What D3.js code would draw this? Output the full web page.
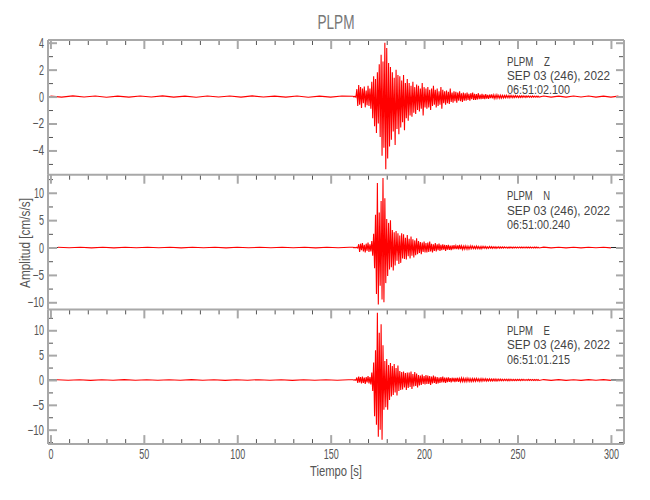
<!DOCTYPE html>
<html><head><meta charset="utf-8">
<script src="https://cdn.jsdelivr.net/npm/d3@7"></script>
<style>
body{margin:0;background:#fff}
text{font-family:"Liberation Sans",Arial,sans-serif}
</style>
</head><body><svg id="c" width="650" height="500"></svg>
<script>
// ---------- data ----------
const chartTitle = "PLPM";
const station = "PLPM";
const components = ["Z", "N", "E"];
const dateLabel = "SEP 03 (246), 2022";
const startTimes = ["06:51:02.100", "06:51:00.240", "06:51:01.215"];
const xLabel = "Tiempo [s]";
const yLabel = "Amplitud [cm/s/s]";

const xDomain = [-1.3, 307];
const xTicks = [0, 50, 100, 150, 200, 250, 300];
const xTickLabels = ["0", "50", "100", "150", "200", "250", "300"];
const xMinorStep = 10;

const yDomains = [[-5.8, 4.2], [-11.3, 13.3], [-12.9, 14.2]];
const yTicksZ = [-4, -2, 0, 2, 4];
const yTickLabelsZ = ["\u22124", "\u22122", "0", "2", "4"];
const yTicksN = [-10, -5, 0, 5, 10];
const yTickLabelsN = ["\u221210", "\u22125", "0", "5", "10"];
const yTicksE = [-10, -5, 0, 5, 10];
const yTickLabelsE = ["\u221210", "\u22125", "0", "5", "10"];
const yMinorSteps = [1, 2.5, 2.5];

// quiet pre-event samples (start time, step 6 s)
const preStart = [0, 4, 3.5];
const preStep = 6;
const preZ = [0.03,-0.04,0.05,-0.03,0.04,-0.05,0.03,-0.04,0.04,-0.03,0.05,-0.04,0.03,-0.05,0.04,-0.03,0.04,-0.04,0.05,-0.03,0.03,-0.04,0.04,-0.05,0.03,-0.04,0.04];
const preN = [0.06,-0.05,0.05,-0.06,0.04,-0.06,0.05,-0.05,0.06,-0.04,0.05,-0.06,0.05,-0.05,0.04,-0.06,0.06,-0.05,0.05,-0.04,0.06,-0.05,0.05,-0.06,0.04,-0.05,0.05];
const preE = [0.06,-0.06,0.05,-0.07,0.06,-0.05,0.07,-0.06,0.05,-0.06,0.06,-0.05,0.07,-0.06,0.05,-0.07,0.06,-0.05,0.06,-0.06,0.05,-0.07,0.06,-0.05,0.06,-0.06,0.05];

// event samples (start 162 s, step 0.5 s)
const activeStart = 162;
const activeStep = 0.5;
const activeZ = [
 0.02,-0.03,0.03,-0.05,0.55,-0.7,0.85,-0.6,0.7,-0.85,
 0.6,-0.5,0.75,-0.8,0.45,-0.65,0.8,-0.7,0.6,-0.9,
 1.1,-1.6,1.5,-2.2,1.3,-2.7,1.8,-2.0,2.4,-3.0,
 3.1,-4.4,2.6,-3.8,4.0,-5.4,3.6,-4.6,2.5,-3.7,
 2.2,-3.2,1.8,-2.6,1.4,-3.6,2.0,-2.4,1.6,-2.8,
 1.5,-2.3,1.2,-1.9,1.6,-2.5,1.0,-1.6,1.3,-1.8,
 1.0,-1.4,0.8,-1.5,1.1,-1.2,0.7,-1.3,0.9,-1.0,
 0.8,-1.1,0.6,-0.9,1.0,-1.4,0.7,-0.8,0.6,-0.9,
 0.7,-0.8,0.5,-1.0,0.6,-0.7,0.8,-0.6,0.5,-0.8,
 0.6,-0.7,0.4,-0.6,0.7,-0.9,0.5,-0.5,0.4,-0.6,
 0.45,-0.5,0.35,-0.55,0.6,-0.4,0.3,-0.45,0.4,-0.35,
 0.35,-0.45,0.3,-0.3,0.4,-0.35,0.25,-0.4,0.3,-0.3,
 0.25,-0.3,0.3,-0.25,0.2,-0.3,0.25,-0.2,0.3,-0.25,
 0.2,-0.25,0.18,-0.22,0.25,-0.2,0.15,-0.2,0.2,-0.18,
 0.15,-0.2,0.18,-0.15,0.12,-0.18,0.15,-0.12,0.16,-0.14,
 0.12,-0.14,0.1,-0.12,0.13,-0.1,0.09,-0.12,0.1,-0.11,
 0.09,-0.1,0.08,-0.09,0.1,-0.08,0.07,-0.09,0.08,-0.07,
 0.07,-0.08,0.06,-0.07,0.08,-0.06,0.06,-0.07,0.05,-0.06,
 0.05,-0.06,0.06,-0.05,0.04,-0.06,0.05,-0.04,0.05,-0.05,
 0.04,-0.05,0.05,-0.04,0.04,-0.05,0.03,-0.04,0.04,-0.04];
const activeN = [
 0.05,-0.05,0.04,-0.06,0.05,-0.1,0.6,-0.8,0.7,-0.5,
 0.8,-0.7,0.5,-0.9,0.7,-0.6,0.9,-0.8,0.6,-0.7,
 1.2,-1.5,2.5,-3.8,6.0,-8.5,11.8,-10.4,6.4,-7.0,
 8.5,-9.5,12.7,-10.0,9.0,-6.5,5.2,-5.2,4.5,-4.0,
 5.0,-3.6,3.2,-4.2,2.8,-3.3,3.0,-2.4,2.6,-3.0,
 2.2,-2.8,2.6,-2.0,2.4,-2.1,1.8,-2.2,2.3,-1.6,
 1.6,-2.0,2.0,-1.5,1.5,-1.8,1.3,-1.4,1.7,-1.2,
 1.2,-1.0,1.0,-1.2,0.9,-0.8,1.1,-0.9,0.8,-0.9,
 0.9,-0.8,1.1,-0.7,0.7,-0.9,0.6,-0.6,0.8,-0.7,
 0.6,-0.5,0.7,-0.6,0.5,-0.5,0.6,-0.4,0.5,-0.6,
 0.45,-0.4,0.5,-0.45,0.35,-0.5,0.4,-0.35,0.45,-0.3,
 0.35,-0.3,0.4,-0.35,0.5,-0.3,0.3,-0.35,0.25,-0.3,
 0.3,-0.25,0.25,-0.3,0.2,-0.25,0.3,-0.2,0.25,-0.2,
 0.2,-0.22,0.25,-0.18,0.2,-0.2,0.16,-0.22,0.2,-0.15,
 0.18,-0.15,0.2,-0.17,0.14,-0.16,0.18,-0.13,0.15,-0.15,
 0.14,-0.12,0.13,-0.15,0.12,-0.11,0.14,-0.12,0.1,-0.12,
 0.11,-0.1,0.12,-0.09,0.1,-0.11,0.09,-0.1,0.11,-0.09,
 0.09,-0.1,0.1,-0.08,0.09,-0.09,0.08,-0.09,0.1,-0.08,
 0.09,-0.08,0.08,-0.09,0.1,-0.08,0.08,-0.07,0.09,-0.08,
 0.08,-0.08,0.07,-0.08,0.09,-0.07,0.08,-0.08,0.07,-0.08];
const activeE = [
 0.05,-0.05,0.06,-0.08,0.5,-0.6,0.7,-0.5,0.6,-0.7,
 0.7,-0.6,0.5,-0.8,0.6,-0.5,0.8,-0.7,0.6,-0.9,
 1.5,-2.2,3.5,-7.3,6.0,-9.0,13.5,-11.4,9.5,-10.0,
 11.2,-12.0,7.0,-6.0,3.8,-5.5,4.2,-6.0,3.0,-4.0,
 3.4,-3.3,2.8,-3.0,3.2,-2.5,2.4,-3.1,2.9,-2.2,
 1.8,-2.0,1.6,-1.9,1.7,-1.5,1.4,-2.0,1.5,-1.6,
 1.5,-1.4,1.7,-1.8,1.2,-1.3,1.6,-1.2,1.3,-1.5,
 1.0,-1.1,0.9,-1.0,1.1,-0.8,0.8,-0.9,1.0,-0.8,
 0.9,-0.8,0.8,-1.0,0.7,-0.7,0.9,-0.6,0.7,-0.8,
 0.6,-0.7,0.5,-0.6,0.6,-0.5,0.7,-0.5,0.5,-0.6,
 0.5,-0.45,0.55,-0.4,0.4,-0.5,0.45,-0.35,0.4,-0.45,
 0.4,-0.35,0.45,-0.4,0.3,-0.35,0.4,-0.3,0.35,-0.3,
 0.3,-0.3,0.35,-0.25,0.3,-0.3,0.25,-0.3,0.3,-0.25,
 0.28,-0.25,0.3,-0.22,0.25,-0.28,0.22,-0.25,0.28,-0.2,
 0.22,-0.2,0.25,-0.22,0.2,-0.18,0.22,-0.2,0.18,-0.2,
 0.2,-0.18,0.18,-0.2,0.16,-0.17,0.18,-0.15,0.17,-0.16,
 0.15,-0.14,0.16,-0.13,0.14,-0.15,0.13,-0.14,0.15,-0.12,
 0.13,-0.12,0.12,-0.13,0.11,-0.12,0.13,-0.1,0.12,-0.11,
 0.11,-0.1,0.12,-0.11,0.1,-0.11,0.1,-0.1,0.11,-0.09,
 0.1,-0.09,0.1,-0.1,0.09,-0.1,0.1,-0.09,0.09,-0.1];

// quiet post-event samples (start 264 s, step 4 s)
const postStart = 264;
const postStep = 4;
const postZ = [0.04,-0.04,0.03,-0.04,0.04,-0.03,0.04,-0.04,0.03,-0.04,0.03];
const postN = [0.07,-0.06,0.06,-0.07,0.05,-0.06,0.06,-0.05,0.06,-0.06];
const postE = [0.08,-0.07,0.07,-0.08,0.06,-0.07,0.07,-0.06,0.07,-0.07];

// ---------- drawing ----------
const svg = d3.select("#c");
const L = 48, R = 624, T = 40, PH = 134.7;
const x = d3.scaleLinear().domain(xDomain).range([L, R]);
const xMinor = d3.range(0, xDomain[1], xMinorStep).filter(v => !xTicks.includes(v));

const yTicksAll = [yTicksZ, yTicksN, yTicksE];
const yLabelsAll = [yTickLabelsZ, yTickLabelsN, yTickLabelsE];
const preAll = [preZ, preN, preE];
const activeAll = [activeZ, activeN, activeE];
const postAll = [postZ, postN, postE];

const axisCol = "#a8a8a8", minorCol = "#555", textCol = "#555";

// narrow rendering (the original uses a condensed vector font)
function narrowWidth(s) {
  let w = 0;
  for (const c of s) w += (c === "\u2212") ? 6.5 : 5.0;
  return w;
}
function styleAxis(g, col, w) {
  g.select(".domain").remove();
  g.selectAll(".tick line").attr("stroke", col).attr("stroke-width", w);
  g.selectAll(".tick text").attr("fill", textCol).style("font-size", "14px")
    .each(function () {
      const s = d3.select(this).text();
      if (s) d3.select(this).attr("textLength", narrowWidth(s)).attr("lengthAdjust", "spacingAndGlyphs");
    });
}

components.forEach((comp, i) => {
  const top = T + i * PH;
  const y = d3.scaleLinear().domain(yDomains[i]).range([top + PH, top]);
  const g = svg.append("g");

  // trace points
  const pts = [];
  preAll[i].forEach((v, k) => pts.push([preStart[i] + k * preStep, v]));
  activeAll[i].forEach((v, k) => pts.push([activeStart + k * activeStep, v]));
  postAll[i].forEach((v, k) => pts.push([postStart + k * postStep, v]));

  // zero baseline where there is no trace
  const t0 = pts[0][0], t1 = pts[pts.length - 1][0];
  [[xDomain[0], t0], [t1, xDomain[1]]].forEach(([a, b]) => {
    g.append("line").attr("x1", x(a)).attr("x2", x(b)).attr("y1", y(0)).attr("y2", y(0))
      .attr("stroke", "#222").attr("stroke-width", 1);
  });

  g.append("path").datum(pts)
    .attr("d", d3.line().x(d => x(d[0])).y(d => y(d[1])))
    .attr("fill", "none").attr("stroke", "#ff0000").attr("stroke-width", 1.1);

  // y minor ticks
  const ms = yMinorSteps[i];
  const yMinor = d3.range(Math.ceil(yDomains[i][0] / ms) * ms, yDomains[i][1], ms)
    .filter(v => !yTicksAll[i].includes(v));

  g.append("g").attr("transform", `translate(${L},0)`)
    .call(d3.axisLeft(y).tickValues(yMinor).tickFormat("").tickSizeInner(-5).tickSizeOuter(0))
    .call(a => styleAxis(a, minorCol, 1));
  g.append("g").attr("transform", `translate(${L},0)`)
    .call(d3.axisLeft(y).tickValues(yTicksAll[i]).tickFormat((d, k) => yLabelsAll[i][k]).tickSizeInner(-9).tickSizeOuter(0).tickPadding(4))
    .call(a => styleAxis(a, axisCol, 2));
  g.append("g").attr("transform", `translate(${R},0)`)
    .call(d3.axisRight(y).tickValues(yMinor).tickFormat("").tickSizeInner(-5).tickSizeOuter(0))
    .call(a => styleAxis(a, minorCol, 1));
  g.append("g").attr("transform", `translate(${R},0)`)
    .call(d3.axisRight(y).tickValues(yTicksAll[i]).tickFormat("").tickSizeInner(-8).tickSizeOuter(0))
    .call(a => styleAxis(a, axisCol, 2));

  // top x ticks (pointing down)
  g.append("g").attr("transform", `translate(0,${top})`)
    .call(d3.axisBottom(x).tickValues(xMinor).tickFormat("").tickSizeInner(5).tickSizeOuter(0))
    .call(a => styleAxis(a, minorCol, 1));
  g.append("g").attr("transform", `translate(0,${top})`)
    .call(d3.axisBottom(x).tickValues(xTicks).tickFormat("").tickSizeInner(9).tickSizeOuter(0))
    .call(a => styleAxis(a, axisCol, 2));

  if (i === components.length - 1) {
    g.append("g").attr("transform", `translate(0,${top + PH})`)
      .call(d3.axisBottom(x).tickValues(xMinor).tickFormat("").tickSizeInner(-5).tickSizeOuter(0))
      .call(a => styleAxis(a, minorCol, 1));
    g.append("g").attr("transform", `translate(0,${top + PH})`)
      .call(d3.axisBottom(x).tickValues(xTicks).tickFormat((d, k) => xTickLabels[k]).tickSizeInner(-9).tickSizeOuter(0).tickPadding(5))
      .call(a => styleAxis(a, axisCol, 2));
  }

  // frame lines
  g.append("line").attr("x1", L).attr("x2", R).attr("y1", top).attr("y2", top)
    .attr("stroke", axisCol).attr("stroke-width", 2);
  g.append("line").attr("x1", L).attr("x2", L).attr("y1", top).attr("y2", top + PH)
    .attr("stroke", axisCol).attr("stroke-width", 2);
  g.append("line").attr("x1", R).attr("x2", R).attr("y1", top).attr("y2", top + PH)
    .attr("stroke", axisCol).attr("stroke-width", 2);
  if (i === components.length - 1) {
    g.append("line").attr("x1", L).attr("x2", R).attr("y1", top + PH).attr("y2", top + PH)
      .attr("stroke", axisCol).attr("stroke-width", 2);
  }

  // annotation
  const lines = [[station + "    " + comp, 43], [dateLabel, 103], [startTimes[i], 63]];
  lines.forEach(([s, w], k) => {
    g.append("text").attr("x", 507).attr("y", top + 25.5 + k * 14.3)
      .attr("fill", "#444").style("font-size", "13px").style("white-space", "pre")
      .attr("textLength", w).attr("lengthAdjust", "spacingAndGlyphs").text(s);
  });
});

svg.append("text").attr("x", 336).attr("y", 29).attr("text-anchor", "middle")
  .attr("fill", "#777").style("font-size", "20px")
  .attr("textLength", 37).attr("lengthAdjust", "spacingAndGlyphs").text(chartTitle);
svg.append("text").attr("x", 336).attr("y", 476).attr("text-anchor", "middle")
  .attr("fill", textCol).style("font-size", "14px")
  .attr("textLength", 52).attr("lengthAdjust", "spacingAndGlyphs").text(xLabel);
svg.append("text").attr("transform", "translate(30,243) rotate(-90)").attr("text-anchor", "middle")
  .attr("fill", textCol).style("font-size", "14px")
  .attr("textLength", 90).attr("lengthAdjust", "spacingAndGlyphs").text(yLabel);
</script>
</body></html>
